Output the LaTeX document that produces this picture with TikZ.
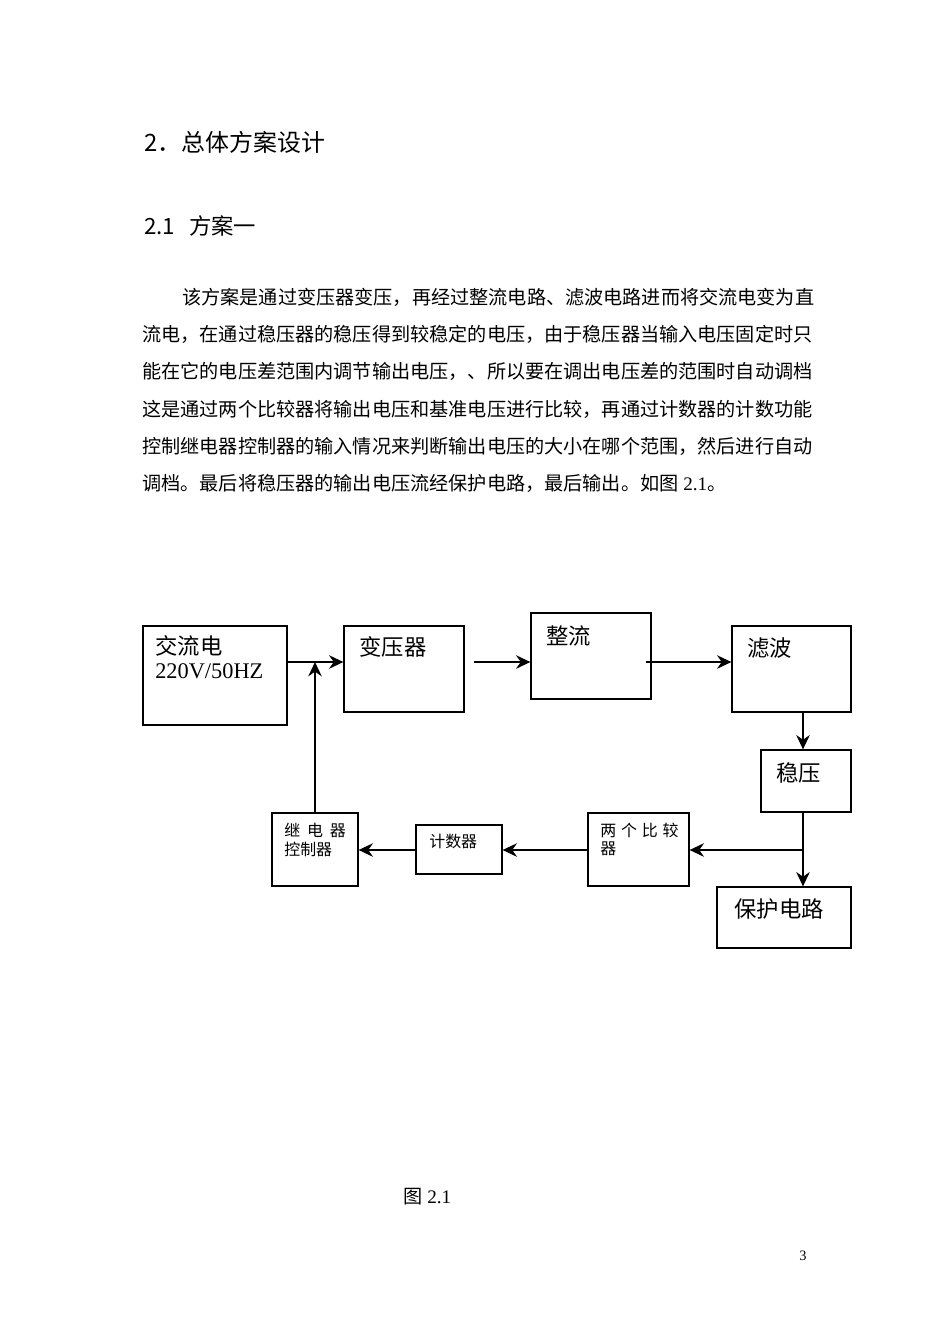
\documentclass[tikz,border=0pt]{standalone}
\usepackage{fontspec}
\setmainfont{Noto Sans CJK SC}
\newfontfamily\lat{Liberation Serif}
\usetikzlibrary{arrows.meta,fit}
\def\spreadA#1{#1\spreadB}
\def\spreadB#1{\ifx\relax#1\else\hfil#1\expandafter\spreadB\fi}
\newcommand\spreadline[2]{\hbox to #1{\spreadA#2\relax}}
\begin{document}
\begin{tikzpicture}[x=0.6266pt,y=-0.6266pt,
  box/.style={draw, line width=0.8pt, inner sep=0pt},
  txt/.style={inner sep=0pt, anchor=west},
  big/.style={font=\fontsize{14pt}{14pt}\selectfont},
  small/.style={font=\fontsize{10pt}{10pt}\selectfont},
  body/.style={font=\fontsize{12pt}{12pt}\selectfont},
  conn/.style={line width=0.8pt, -{Stealth[length=9pt,width=8.5pt,inset=3pt]}}]
\useasboundingbox (0,0) rectangle (950,1344);
\fill[white] (0,0) rectangle (950,1344);

% headings
\node[txt, font=\fontsize{15pt}{15pt}\selectfont] (h1) at (144,142) {2．总体方案设计};
\node[txt, font=\fontsize{14pt}{14pt}\selectfont] (h2) at (144,226) {\hbox to 28pt{2.1\hfil}方案一};

% paragraph
\node[txt, body] (p1) at (182,297) {\spreadline{390.5pt}{该方案是通过变压器变压，再经过整流电路、滤波电路进而将交流电变为直}};
\node[txt, body] (p2) at (142,334) {\spreadline{415.5pt}{流电，在通过稳压器的稳压得到较稳定的电压，由于稳压器当输入电压固定时只}};
\node[txt, body] (p3) at (142,371) {\spreadline{415.5pt}{能在它的电压差范围内调节输出电压，、所以要在调出电压差的范围时自动调档}};
\node[txt, body] (p4) at (142,409) {\spreadline{415.5pt}{这是通过两个比较器将输出电压和基准电压进行比较，再通过计数器的计数功能}};
\node[txt, body] (p5) at (142,446) {\spreadline{415.5pt}{控制继电器控制器的输入情况来判断输出电压的大小在哪个范围，然后进行自动}};
\node[txt, body] (p6) at (142,483) {调档。最后将稳压器的输出电压流经保护电路，最后输出。如图{\lat\ 2.1}。};

% boxes
\node[box, fit={(143,626) (287,725)}] (ac) {};
\node[box, fit={(344,626) (464,712)}] (tr) {};
\node[box, fit={(531,613) (651,699)}] (zl) {};
\node[box, fit={(732,626) (851,712)}] (lb) {};
\node[box, fit={(761,750) (851,812)}] (wy) {};
\node[box, fit={(717,887) (851,948)}] (bh) {};
\node[box, fit={(588,813) (689,886)}] (bj) {};
\node[box, fit={(416,825) (502,874)}] (js) {};
\node[box, fit={(272,813) (358,886)}] (jd) {};

% box texts
\node[txt, big] (tac1) at (155,646) {交流电};
\node[txt, big] (tac2) at (155,671) {\lat 220V/50HZ};
\node[txt, big] (ttr) at (359,647) {变压器};
\node[txt, big] (tzl) at (546,636) {整流};
\node[txt, big] (tlb) at (747,648) {滤波};
\node[txt, big] (twy) at (776,773) {稳压};
\node[txt, big] (tbh) at (734,909) {保护电路};
\node[txt, small] (tbj1) at (600,830) {\spreadline{49pt}{两个比较}};
\node[txt, small] (tbj2) at (600,849) {器};
\node[txt, small] (tjs) at (429,841) {计数器};
\node[txt, small] (tjd1) at (284,830) {\spreadline{38.5pt}{继电器}};
\node[txt, small] (tjd2) at (284,849) {控制器};

% caption and page number
\node[txt, body] (cap) at (403,1197) {图{\lat\ 2.1}};
\node[txt, font=\lat\fontsize{9pt}{9pt}\selectfont] (pg) at (799,1256) {3};

% connectors
\coordinate (row) at (0,662);
\coordinate (col) at (803,0);
\coordinate (fb) at (315,0);
\coordinate (s1) at (474,662);
\coordinate (s2) at (646,662);
\coordinate (br) at (803,850);
\draw[conn] (ac.east |- row) -- (tr.west |- row);
\draw[conn] (s1) -- (zl.west |- row);
\draw[conn] (s2) -- (lb.west |- row);
\draw[conn] (lb.south -| col) -- (wy.north -| col);
\draw[conn] (wy.south -| col) -- (bh.north -| col);
\draw[conn] (br) -- (bj.east |- br);
\draw[conn] (bj.west |- br) -- (js.east |- br);
\draw[conn] (js.west |- br) -- (jd.east |- br);
\draw[conn] (jd.north -| fb) -- (fb |- row);
\end{tikzpicture}
\end{document}
